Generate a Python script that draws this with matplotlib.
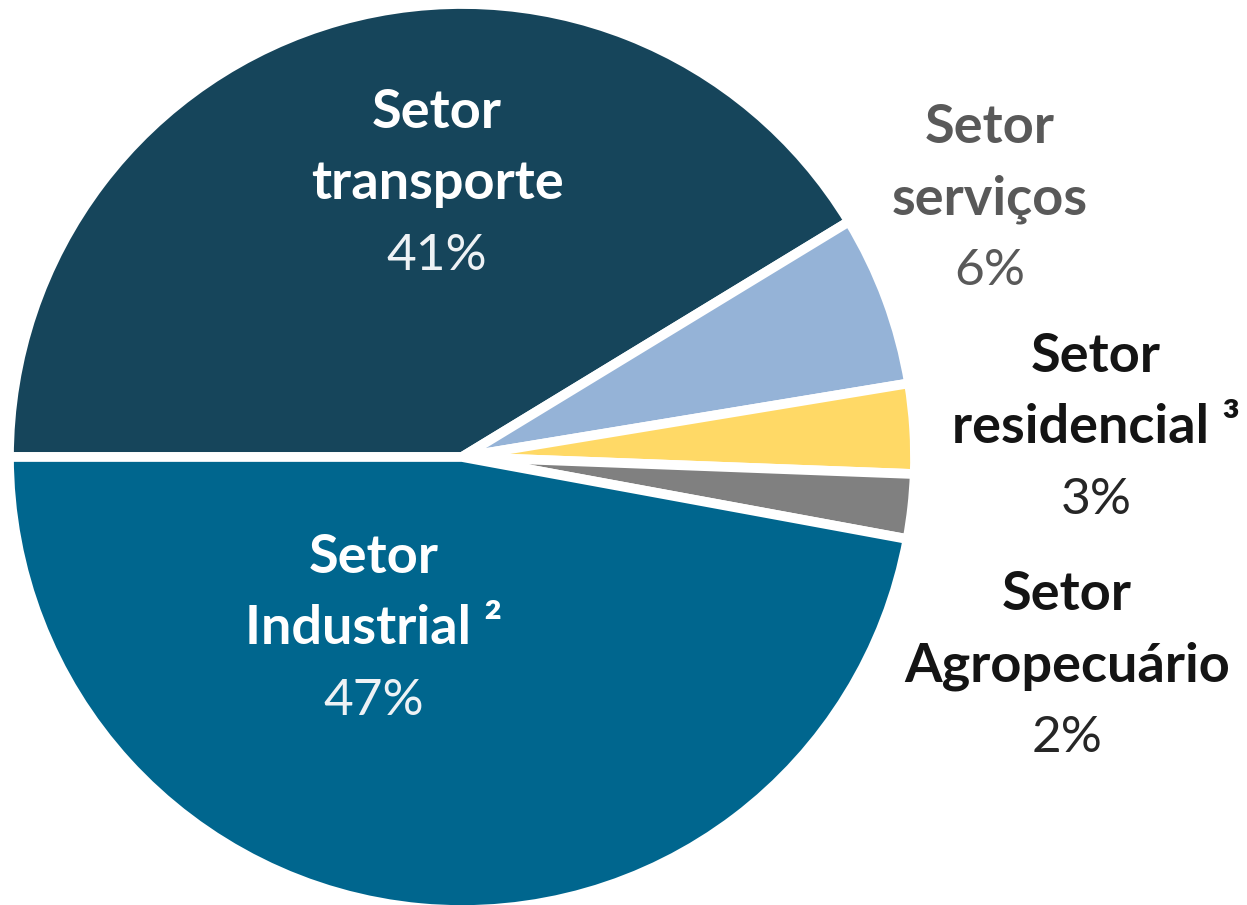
import matplotlib
matplotlib.use("Agg")
import matplotlib.pyplot as plt

# shares (degrees of each slice / 360)
sectors = ["transporte", "serviços", "residencial", "Agropecuário", "Industrial"]
shares = [41.3, 6.1, 3.2, 2.3, 47.1]
names = ["Setor\ntransporte", "Setor\nserviços", "Setor\nresidencial ³",
         "Setor\nAgropecuário", "Setor\nIndustrial ²"]
colors = ["#16455b", "#95b3d7", "#ffd966", "#808080", "#00668e"]
name_colors = ["white", "#595959", "#141414", "#141414", "white"]
pct_colors = ["#eef2f5", "#595959", "#262626", "#262626", "#eef2f5"]

# label anchors in pixels (centre x, baseline of first line from top)
label_pos = [(437, 128), (990, 143), (1096, 372), (1067, 610), (374, 573)]

W, H = 1247, 905
plt.rcParams["font.family"] = ["Lato", "DejaVu Sans"]

fig = plt.figure(figsize=(W / 100, H / 100), dpi=100)
cx, cy, r = 462, 457, 453
ax = fig.add_axes([(cx - r) / W, (H - cy - r) / H, 2 * r / W, 2 * r / H])
ax.pie(
    shares,
    colors=colors,
    startangle=180,
    counterclock=False,
    wedgeprops=dict(edgecolor="white", linewidth=7),
)
ax.set_xlim(-1, 1)
ax.set_ylim(-1, 1)
ax.axis("off")

line = 71
for i in range(len(sectors)):
    x, y = label_pos[i]
    top, bottom = names[i].split("\n")
    fig.text(x / W, 1 - y / H, top, ha="center", va="baseline",
             fontsize=39, fontweight="bold", color=name_colors[i])
    fig.text(x / W, 1 - (y + line) / H, bottom, ha="center", va="baseline",
             fontsize=39, fontweight="bold", color=name_colors[i])
    fig.text(x / W, 1 - (y + 2 * line) / H, "{:.0f}%".format(shares[i]),
             ha="center", va="baseline", fontsize=37, color=pct_colors[i])

fig.savefig("out.png", dpi=100)
